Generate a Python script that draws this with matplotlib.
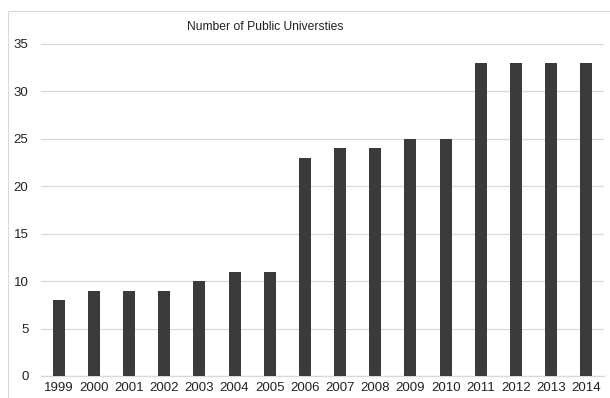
import matplotlib
matplotlib.use("Agg")
import matplotlib.pyplot as plt
from matplotlib.patches import Rectangle

years = ["1999", "2000", "2001", "2002", "2003", "2004", "2005", "2006",
         "2007", "2008", "2009", "2010", "2011", "2012", "2013", "2014"]
counts = [8, 9, 9, 9, 10, 11, 11, 23, 24, 24, 25, 25, 33, 33, 33, 33]
yticks = [0, 5, 10, 15, 20, 25, 30, 35]

plt.rcParams['font.family'] = ['Liberation Sans', 'DejaVu Sans']

W, H = 610, 398
fig = plt.figure(figsize=(W / 100, H / 100), dpi=100)
fig.patch.set_facecolor("white")

# chart border
fig.patches.append(Rectangle((8 / W, -0.1), 1.2, (H - 11) / H + 0.1,
                             transform=fig.transFigure, fill=False,
                             edgecolor="#d9d9d9", linewidth=0.8))

ax = fig.add_axes([41 / W, (H - 376) / H, (604 - 41) / W, (376 - 44) / H])
x = list(range(len(years)))
ax.bar(x, counts, width=0.34, color="#3b3b3b", zorder=3)
ax.set_xlim(-0.5, len(years) - 0.5)
ax.set_ylim(0, 35)
ax.set_yticks(yticks)
ax.set_yticklabels([str(t) for t in yticks], fontsize=9.5, color="#222222")
ax.set_xticks(x)
ax.set_xticklabels(years, fontsize=9.5, color="#222222")
ax.yaxis.grid(True, color="#d9d9d9", linewidth=0.9, zorder=0)
for s in ["top", "right", "left"]:
    ax.spines[s].set_visible(False)
ax.spines["bottom"].set_color("#d9d9d9")
ax.spines["bottom"].set_linewidth(0.9)
ax.tick_params(axis="both", length=0)
ax.tick_params(axis="y", pad=9)
ax.tick_params(axis="x", pad=4)

fig.text(265 / W, (H - 27) / H, "Number of Public Universties", ha="center",
         va="center", fontsize=8.7, color="#222222")

fig.savefig("out.png", dpi=100, facecolor="white")
